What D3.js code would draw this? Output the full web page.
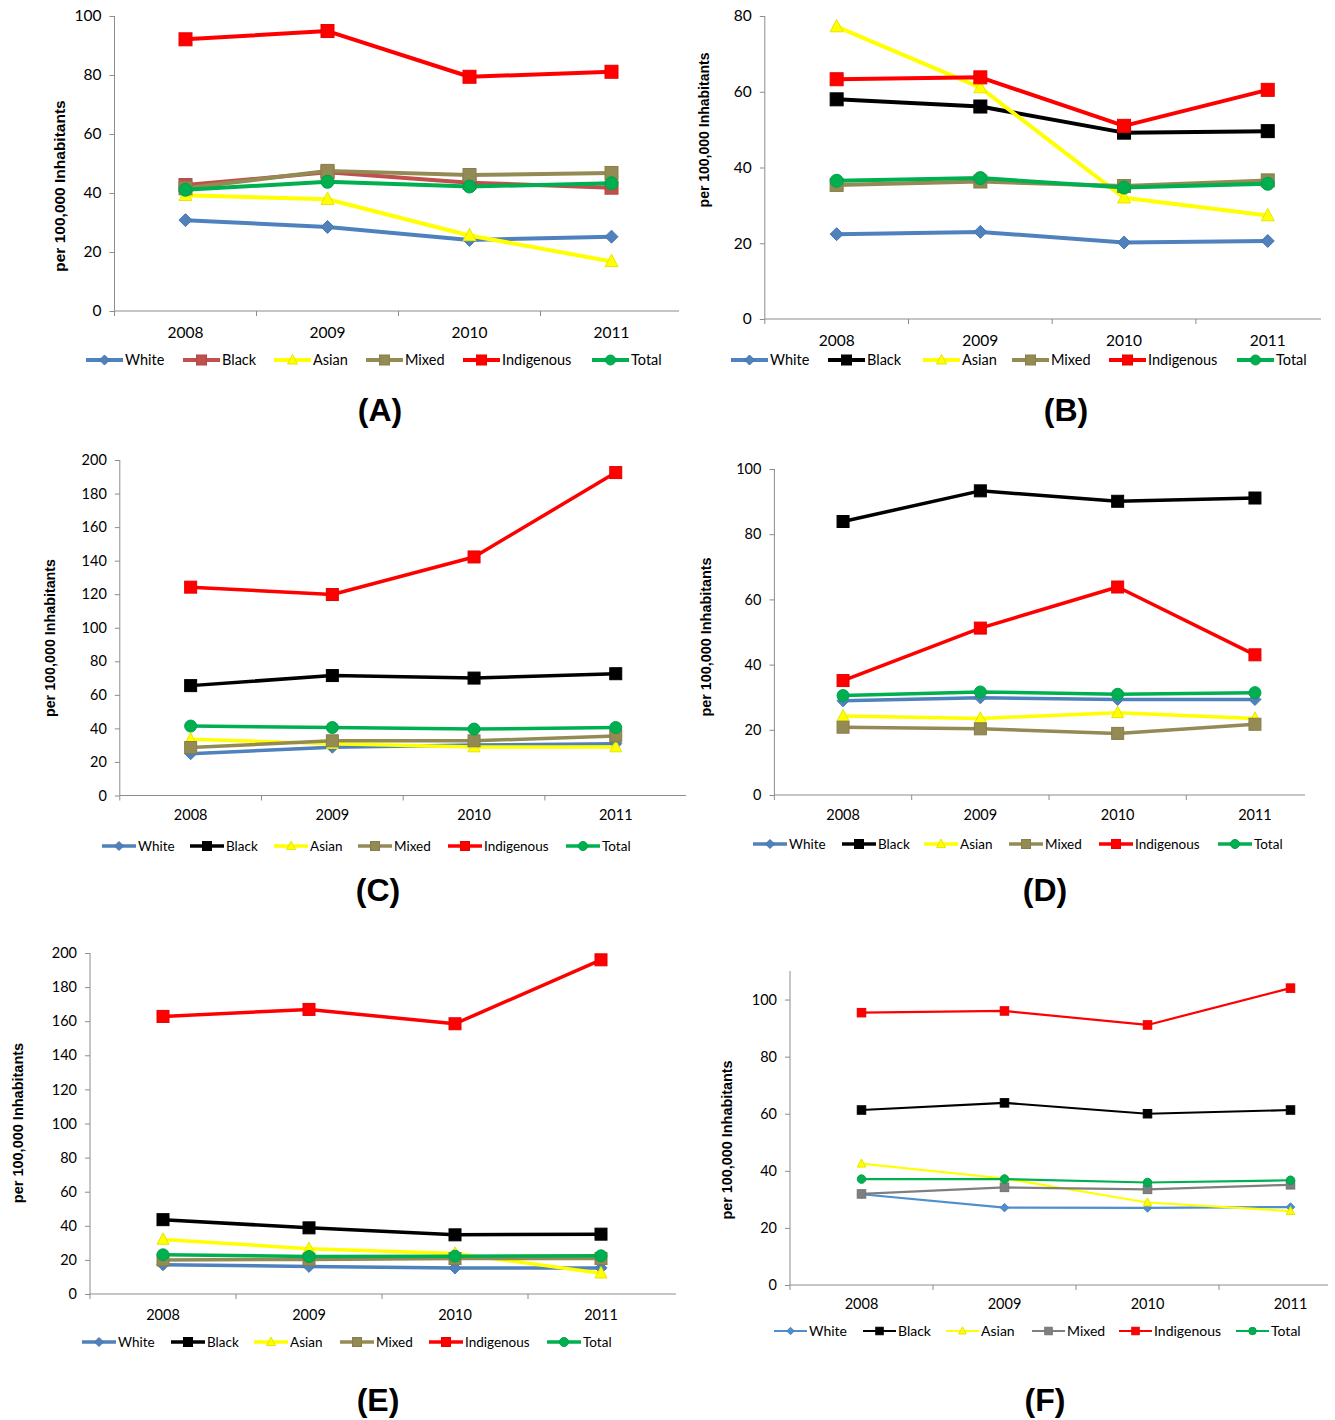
<!DOCTYPE html>
<html>
<head>
<meta charset="utf-8">
<script src="https://cdn.jsdelivr.net/npm/d3@7"></script>
<style>
  html, body { margin: 0; padding: 0; background: #fff; }
  svg { display: block; }
</style>
</head>
<body>
<svg id="chart" width="1335" height="1420"></svg>
<script>
// ---------------- DATA ----------------
const years = ["2008", "2009", "2010", "2011"];
const seriesNames = ["White", "Black", "Asian", "Mixed", "Indigenous", "Total"];

// rows follow seriesNames order
const valuesA = [
  [30.8, 28.5, 24.1, 25.2],
  [42.7, 47.0, 43.5, 41.8],
  [39.2, 37.9, 25.6, 16.8],
  [41.6, 47.5, 46.1, 46.8],
  [92.1, 94.9, 79.4, 81.1],
  [41.1, 43.8, 42.2, 43.3]
];
const valuesB = [
  [22.4, 23.0, 20.2, 20.6],
  [58.0, 56.1, 49.2, 49.6],
  [77.2, 61.1, 32.0, 27.3],
  [35.4, 36.3, 35.1, 36.6],
  [63.3, 63.8, 51.0, 60.5],
  [36.5, 37.2, 34.7, 35.7]
];
const valuesC = [
  [24.9, 28.8, 30.1, 30.9],
  [65.5, 71.5, 70.0, 72.6],
  [33.5, 30.9, 28.9, 28.9],
  [28.6, 32.6, 32.6, 35.5],
  [124.2, 119.8, 142.2, 192.5],
  [41.4, 40.5, 39.6, 40.5]
];
const valuesD = [
  [28.9, 29.8, 29.3, 29.3],
  [83.9, 93.3, 90.1, 91.1],
  [24.2, 23.5, 25.2, 23.5],
  [20.8, 20.3, 18.9, 21.7],
  [35.1, 51.2, 63.8, 43.0],
  [30.5, 31.6, 30.9, 31.4]
];
const valuesE = [
  [17.2, 16.2, 15.3, 15.3],
  [43.6, 38.8, 34.7, 35.1],
  [32.0, 26.6, 23.8, 12.2],
  [20.0, 20.3, 20.8, 20.8],
  [162.8, 166.9, 158.5, 196.0],
  [23.0, 22.0, 22.2, 22.4]
];
const valuesF = [
  [31.8, 27.1, 27.0, 27.3],
  [61.3, 63.8, 60.0, 61.3],
  [42.5, 37.3, 28.9, 25.9],
  [31.9, 34.2, 33.5, 35.1],
  [95.4, 96.0, 91.1, 104.0],
  [37.1, 37.1, 35.9, 36.7]
];

const yTicksA = [0, 20, 40, 60, 80, 100];
const yTicksB = [0, 20, 40, 60, 80];
const yTicksC = [0, 20, 40, 60, 80, 100, 120, 140, 160, 180, 200];
const yTicksD = [0, 20, 40, 60, 80, 100];
const yTicksE = [0, 20, 40, 60, 80, 100, 120, 140, 160, 180, 200];
const yTicksF = [0, 20, 40, 60, 80, 100];

const panelLabels = ["(A)", "(B)", "(C)", "(D)", "(E)", "(F)"];
const yAxisTitle = "per 100,000 Inhabitants";

// ---------------- STYLE / LAYOUT ----------------
const shapes = ["diamond", "square", "triangle", "square", "square", "circle"];
const colorsStd = ["#4f81bd", "#000000", "#ffff00", "#948a54", "#ff0000", "#00b050"];
const colorsA   = ["#4f81bd", "#c0504d", "#ffff00", "#948a54", "#ff0000", "#00b050"];
const colorsF   = ["#4f8fd0", "#000000", "#ffff00", "#7f7f7f", "#ff0000", "#00b050"];

const panels = [
  { values: valuesA, ticks: yTicksA, yMax: 100, colors: colorsA, label: panelLabels[0],
    x0: 114.5, bw: 142, xEnd: 679, yBot: 311, yTop: 16,
    tickFont: 15.5, yearY: 333, legY: 360, legX: [86, 183, 274, 366, 463, 592], legFont: 14.5,
    titleX: 380, titleY: 410, ylabX: 60, ylabY: 186, ylabFont: 15.5,
    lw: 4, ms: 13, legLine: 37, legMs: 10, legLw: 4 },
  { values: valuesB, ticks: yTicksB, yMax: 80, colors: colorsStd, label: panelLabels[1],
    x0: 764.8, bw: 143.7, xEnd: 1321, yBot: 319, yTop: 16,
    tickFont: 15.5, yearY: 341, legY: 360, legX: [731, 828, 923, 1012, 1109, 1237], legFont: 14.5,
    titleX: 1066, titleY: 410, ylabX: 704, ylabY: 130, ylabFont: 14,
    lw: 4, ms: 13, legLine: 37, legMs: 10, legLw: 4 },
  { values: valuesC, ticks: yTicksC, yMax: 200, colors: colorsStd, label: panelLabels[2],
    x0: 119.8, bw: 141.7, xEnd: 686, yBot: 795.5, yTop: 460,
    tickFont: 14.5, yearY: 815, legY: 846, legX: [102, 190, 274, 358, 448, 566], legFont: 13.5,
    titleX: 378, titleY: 890, ylabX: 50, ylabY: 638, ylabFont: 14.3,
    lw: 3.5, ms: 12, legLine: 34, legMs: 9, legLw: 3.5 },
  { values: valuesD, ticks: yTicksD, yMax: 100, colors: colorsStd, label: panelLabels[3],
    x0: 774.4, bw: 137.3, xEnd: 1305, yBot: 795, yTop: 469,
    tickFont: 14.5, yearY: 815, legY: 844, legX: [753, 842, 924, 1009, 1099, 1218], legFont: 13.5,
    titleX: 1045, titleY: 890, ylabX: 706, ylabY: 637, ylabFont: 14.4,
    lw: 3.5, ms: 12, legLine: 34, legMs: 9, legLw: 3.5 },
  { values: valuesE, ticks: yTicksE, yMax: 200, colors: colorsStd, label: panelLabels[4],
    x0: 90, bw: 146, xEnd: 676, yBot: 1294, yTop: 953,
    tickFont: 14.5, yearY: 1315, legY: 1342, legX: [82, 171, 254, 340, 429, 547], legFont: 13.5,
    titleX: 378, titleY: 1400, ylabX: 18, ylabY: 1123, ylabFont: 14.5,
    lw: 3.5, ms: 12, legLine: 34, legMs: 9, legLw: 3.5 },
  { values: valuesF, ticks: yTicksF, yMax: 110, colors: colorsF, label: panelLabels[5],
    x0: 790, bw: 143, xEnd: 1328, yBot: 1285, yTop: 971,
    tickFont: 14.5, yearY: 1304, legY: 1331, legX: [774, 863, 946, 1032, 1119, 1236], legFont: 14,
    titleX: 1045, titleY: 1400, ylabX: 727, ylabY: 1140, ylabFont: 14.4,
    lw: 2.2, ms: 8.5, legLine: 33, legMs: 7.5, legLw: 2.2 }
];

const axisColor = "#8c8c8c";
const tickFontFamily = "Lato, 'Open Sans', 'Liberation Sans', sans-serif";
const boldFontFamily = "'Liberation Sans', Arial, sans-serif";

const svg = d3.select("#chart");

function darker(c, k) {
  const col = d3.color(c);
  return col.darker(k).formatHex();
}

function drawMarker(g, shape, cx, cy, s, fill) {
  const stroke = fill === "#ffff00" ? "#e6e600" : darker(fill, 0.25);
  if (shape === "square") {
    g.append("rect").attr("x", cx - s / 2).attr("y", cy - s / 2)
      .attr("width", s).attr("height", s)
      .attr("fill", fill).attr("stroke", stroke).attr("stroke-width", 1);
  } else if (shape === "circle") {
    g.append("circle").attr("cx", cx).attr("cy", cy).attr("r", s / 2)
      .attr("fill", fill).attr("stroke", stroke).attr("stroke-width", 1);
  } else if (shape === "diamond") {
    const h = s / 2;
    g.append("path").attr("d", `M${cx},${cy - h}L${cx + h},${cy}L${cx},${cy + h}L${cx - h},${cy}Z`)
      .attr("fill", fill).attr("stroke", stroke).attr("stroke-width", 1);
  } else if (shape === "triangle") {
    const h = s / 2;
    g.append("path").attr("d", `M${cx},${cy - h * 1.1}L${cx + h},${cy + h * 0.8}L${cx - h},${cy + h * 0.8}Z`)
      .attr("fill", fill).attr("stroke", stroke).attr("stroke-width", 1);
  }
}

panels.forEach(p => {
  const g = svg.append("g");
  const x = d3.scaleBand().domain(years).range([p.x0, p.x0 + p.bw * years.length]).paddingInner(0).paddingOuter(0);
  const y = d3.scaleLinear().domain([0, p.yMax]).range([p.yBot, p.yTop]);
  const cx = d => x(d) + x.bandwidth() / 2;

  // y axis
  const yAxis = d3.axisLeft(y).tickValues(p.ticks).tickSize(5).tickPadding(8).tickFormat(d3.format("d"));
  const ya = g.append("g").attr("transform", `translate(${p.x0},0)`).call(yAxis);
  ya.select(".domain").remove();
  ya.selectAll(".tick line").attr("stroke", axisColor);
  ya.selectAll(".tick text").attr("fill", "#000").style("font-family", tickFontFamily).style("font-size", p.tickFont + "px");
  g.append("line").attr("x1", p.x0).attr("x2", p.x0).attr("y1", y(p.yMax)).attr("y2", p.yBot + 5)
    .attr("stroke", axisColor).attr("stroke-width", 1);

  // x axis
  const xAxis = d3.axisBottom(x).tickSize(0).tickPadding(0);
  const xa = g.append("g").attr("transform", `translate(0,${p.yBot})`).call(xAxis);
  xa.select(".domain").remove();
  xa.selectAll(".tick text").attr("fill", "#000").attr("y", p.yearY - p.yBot).attr("dy", "0.35em")
    .style("font-family", tickFontFamily).style("font-size", p.tickFont + "px");
  g.append("line").attr("x1", p.x0).attr("x2", p.xEnd).attr("y1", p.yBot).attr("y2", p.yBot)
    .attr("stroke", axisColor).attr("stroke-width", 1);
  years.forEach((yr, i) => {
    if (i === 0) return;
    const bx = x(yr);
    g.append("line").attr("x1", bx).attr("x2", bx).attr("y1", p.yBot).attr("y2", p.yBot + 5)
      .attr("stroke", axisColor).attr("stroke-width", 1);
  });

  // series
  const line = d3.line().x((d, i) => cx(years[i])).y(d => y(d));
  p.values.forEach((vals, si) => {
    const sg = g.append("g");
    sg.append("path").attr("d", line(vals)).attr("fill", "none")
      .attr("stroke", p.colors[si]).attr("stroke-width", p.lw).attr("stroke-linejoin", "round");
    vals.forEach((v, i) => drawMarker(sg, shapes[si], cx(years[i]), y(v), p.ms, p.colors[si]));
  });

  // y axis title
  g.append("text").attr("transform", `translate(${p.ylabX},${p.ylabY}) rotate(-90)`)
    .attr("text-anchor", "middle").attr("dy", "0.35em")
    .style("font-family", boldFontFamily).style("font-weight", "bold").style("font-size", p.ylabFont + "px")
    .text(yAxisTitle);

  // legend
  seriesNames.forEach((name, si) => {
    const lx = p.legX[si];
    const lg = g.append("g");
    lg.append("line").attr("x1", lx).attr("x2", lx + p.legLine).attr("y1", p.legY).attr("y2", p.legY)
      .attr("stroke", p.colors[si]).attr("stroke-width", p.legLw);
    drawMarker(lg, shapes[si], lx + p.legLine / 2, p.legY, p.legMs, p.colors[si]);
    lg.append("text").attr("x", lx + p.legLine + 2).attr("y", p.legY).attr("dy", "0.35em")
      .style("font-family", tickFontFamily).style("font-size", p.legFont + "px").attr("fill", "#000")
      .text(name);
  });

  // panel label
  g.append("text").attr("x", p.titleX).attr("y", p.titleY).attr("dy", "0.35em").attr("text-anchor", "middle")
    .style("font-family", boldFontFamily).style("font-weight", "bold").style("font-size", "32px")
    .text(p.label);
});
</script>
</body>
</html>
